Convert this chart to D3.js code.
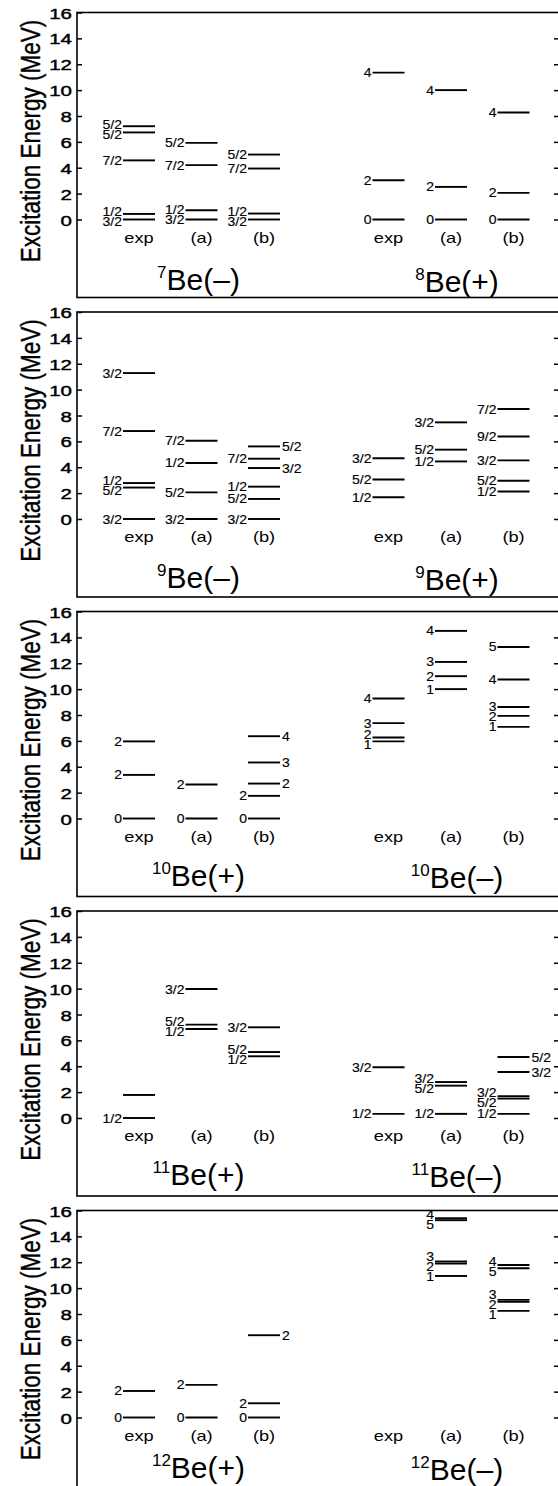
<!DOCTYPE html>
<html>
<head>
<meta charset="utf-8">
<script src="https://cdn.jsdelivr.net/npm/d3@7"></script>
<style>
  body { margin: 0; background: #fff; }
  svg { display: block; }
  text { font-family: "Liberation Sans", Arial, Helvetica, sans-serif; fill: #000; }
</style>
</head>
<body>
<svg id="chart" width="558" height="1486"></svg>
<script>
// Calculation columns and energy axis ticks
const columns = ["exp", "(a)", "(b)"];
const energyTicks = [0, 2, 4, 6, 8, 10, 12, 14, 16];

// Level schemes: [column, excitation energy (MeV), spin label]
const be7Minus = [
  ["exp", 0, "3/2"], ["exp", 0.43, "1/2"], ["exp", 4.57, "7/2"], ["exp", 6.73, "5/2"], ["exp", 7.21, "5/2"],
  ["(a)", 0, "3/2"], ["(a)", 0.72, "1/2"], ["(a)", 4.2, "7/2"], ["(a)", 5.92, "5/2"],
  ["(b)", 0, "3/2"], ["(b)", 0.46, "1/2"], ["(b)", 3.94, "7/2"], ["(b)", 5.02, "5/2"]
];
const be8Plus = [
  ["exp", 0, "0"], ["exp", 3.03, "2"], ["exp", 11.35, "4"],
  ["(a)", 0, "0"], ["(a)", 2.52, "2"], ["(a)", 10.0, "4"],
  ["(b)", 0, "0"], ["(b)", 2.06, "2"], ["(b)", 8.27, "4"]
];
const be9Minus = [
  ["exp", 0, "3/2"], ["exp", 2.43, "5/2"], ["exp", 2.78, "1/2"], ["exp", 6.8, "7/2"], ["exp", 11.28, "3/2"],
  ["(a)", 0, "3/2"], ["(a)", 2.06, "5/2"], ["(a)", 4.33, "1/2"], ["(a)", 6.05, "7/2"],
  ["(b)", 0, "3/2"], ["(b)", 1.55, "5/2"], ["(b)", 2.5, "1/2"], ["(b)", 3.94, "3/2"], ["(b)", 4.66, "7/2"], ["(b)", 5.61, "5/2"]
];
const be9Plus = [
  ["exp", 1.68, "1/2"], ["exp", 3.05, "5/2"], ["exp", 4.70, "3/2"],
  ["(a)", 4.45, "1/2"], ["(a)", 5.36, "5/2"], ["(a)", 7.47, "3/2"],
  ["(b)", 2.13, "1/2"], ["(b)", 2.96, "5/2"], ["(b)", 4.53, "3/2"], ["(b)", 6.38, "9/2"], ["(b)", 8.5, "7/2"]
];
const be10Plus = [
  ["exp", 0, "0"], ["exp", 3.37, "2"], ["exp", 5.96, "2"],
  ["(a)", 0, "0"], ["(a)", 2.63, "2"],
  ["(b)", 0, "0"], ["(b)", 1.75, "2"], ["(b)", 2.7, "2"], ["(b)", 4.33, "3"], ["(b)", 6.36, "4"]
];
const be10Minus = [
  ["exp", 5.96, "1"], ["exp", 6.26, "2"], ["exp", 7.37, "3"], ["exp", 9.27, "4"],
  ["(a)", 10.0, "1"], ["(a)", 11.0, "2"], ["(a)", 12.1, "3"], ["(a)", 14.5, "4"],
  ["(b)", 7.08, "1"], ["(b)", 7.93, "2"], ["(b)", 8.62, "3"], ["(b)", 10.74, "4"], ["(b)", 13.26, "5"]
];
const be11Plus = [
  ["exp", 0, "1/2"], ["exp", 1.78, ""],
  ["(a)", 6.88, "1/2"], ["(a)", 7.22, "5/2"], ["(a)", 9.97, "3/2"],
  ["(b)", 4.77, "1/2"], ["(b)", 5.1, "5/2"], ["(b)", 7.01, "3/2"]
];
const be11Minus = [
  ["exp", 0.32, "1/2"], ["exp", 3.92, "3/2"],
  ["(a)", 0.32, "1/2"], ["(a)", 2.5, "5/2"], ["(a)", 2.78, "3/2"],
  ["(b)", 0.32, "1/2"], ["(b)", 1.5, "5/2"], ["(b)", 1.68, "3/2"], ["(b)", 3.55, "3/2"], ["(b)", 4.71, "5/2"]
];
const be12Plus = [
  ["exp", 0, "0"], ["exp", 2.05, "2"],
  ["(a)", 0, "0"], ["(a)", 2.52, "2"],
  ["(b)", 0, "0"], ["(b)", 1.1, "2"], ["(b)", 6.36, "2"]
];
const be12Minus = [
  ["(a)", 10.94, "1"], ["(a)", 11.9, "2"], ["(a)", 12.06, "3"], ["(a)", 15.25, "5"], ["(a)", 15.4, "4"],
  ["(b)", 8.24, "1"], ["(b)", 8.94, "2"], ["(b)", 9.09, "3"], ["(b)", 11.54, "5"], ["(b)", 11.79, "4"]
];

// Levels whose spin is written to the right of the line: [nucleus, column, energy]
const rightLabelled = [
  ["be9Minus", "(b)", 3.94], ["be9Minus", "(b)", 5.61],
  ["be10Plus", "(b)", 2.7], ["be10Plus", "(b)", 4.33], ["be10Plus", "(b)", 6.36],
  ["be11Minus", "(b)", 3.55], ["be11Minus", "(b)", 4.71],
  ["be12Plus", "(b)", 6.36]
];

// Panel arrangement (rows of two nuclei) and their titles
const panelRows = [
  ["be7Minus", "be8Plus"], ["be9Minus", "be9Plus"], ["be10Plus", "be10Minus"],
  ["be11Plus", "be11Minus"], ["be12Plus", "be12Minus"]
];
const nucleusKeys   = ["be7Minus", "be8Plus", "be9Minus", "be9Plus", "be10Plus", "be10Minus", "be11Plus", "be11Minus", "be12Plus", "be12Minus"];
const nucleusMass   = ["7", "8", "9", "9", "10", "10", "11", "11", "12", "12"];
const nucleusParity = ["–", "+", "–", "+", "+", "–", "+", "–", "+", "–"];

const levelsByKey = { be7Minus, be8Plus, be9Minus, be9Plus, be10Plus, be10Minus, be11Plus, be11Minus, be12Plus, be12Minus };

// ---- layout ----
const svg = d3.select("#chart");
const firstTop = 12.5, panelStep = 299.5, plotSpan = 207, boxH = 285;
const titleDrop = [277.5, 275.5, 274, 274, 267];
const xL = 77, xR = 559;
const halfLen = 16;
const groupX = d3.scalePoint().domain([0, 1]).range([139, 388.5]);
const colX = d3.scalePoint().domain(columns).range([0, 125]);

// push overlapping labels apart while keeping their order
function spread(items, gap) {
  items.sort((a, b) => a.ly - b.ly);
  for (let it = 0; it < 60; it++) {
    let moved = false;
    for (let i = 0; i < items.length - 1; i++) {
      const d = items[i + 1].ly - items[i].ly;
      if (d < gap - 0.01) {
        const m = (items[i].ly + items[i + 1].ly) / 2;
        items[i].ly = m - gap / 2;
        items[i + 1].ly = m + gap / 2;
        moved = true;
      }
    }
    if (!moved) break;
  }
  return items;
}

panelRows.forEach((row, r) => {
  const top = firstTop + r * panelStep;
  const y = d3.scaleLinear().domain([0, 16]).range([top + plotSpan, top]);
  const g = svg.append("g");

  g.append("rect")
    .attr("x", xL).attr("y", top)
    .attr("width", xR - xL).attr("height", boxH)
    .attr("fill", "none").attr("stroke", "#000").attr("stroke-width", 1.6);

  // left energy axis
  const ax = g.append("g").attr("transform", `translate(${xL},0)`)
    .call(d3.axisLeft(y).tickValues(energyTicks).tickSize(-5).tickFormat(d3.format("d")));
  ax.select(".domain").remove();
  ax.selectAll(".tick line").attr("stroke", "#000").attr("stroke-width", 1.5);
  ax.selectAll(".tick text")
    .attr("x", null).attr("dy", "0.36em")
    .attr("transform", "translate(-5,0) scale(1.32,1)")
    .style("font-size", "15.5px").style("font-family", "Liberation Sans, Arial, sans-serif")
    .attr("fill", "#000").attr("stroke", "#000").attr("stroke-width", 0.45);

  // right ticks
  const axr = g.append("g").attr("transform", `translate(${xR},0)`)
    .call(d3.axisRight(y).tickValues(energyTicks.filter(v => v < 16)).tickSize(-5).tickFormat(""));
  axr.select(".domain").remove();
  axr.selectAll(".tick line").attr("stroke", "#000").attr("stroke-width", 1.5);

  // axis title
  g.append("text")
    .attr("transform", `translate(30,${top + 128.5}) rotate(-90) scale(1,1.25)`)
    .attr("text-anchor", "middle").attr("dy", "0.35em")
    .attr("stroke", "#000").attr("stroke-width", 0.3)
    .style("font-size", "22.5px")
    .text("Excitation Energy (MeV)");

  row.forEach((key, h) => {
    const gx = groupX(h);
    const idx = nucleusKeys.indexOf(key);
    const levels = levelsByKey[key].map(([col, e, j]) => ({
      col, e, j,
      right: rightLabelled.some(([k, c, en]) => k === key && c === col && en === e)
    }));

    // level lines
    g.append("g").selectAll("line").data(levels).join("line")
      .attr("x1", d => gx + colX(d.col) - halfLen)
      .attr("x2", d => gx + colX(d.col) + halfLen)
      .attr("y1", d => y(d.e)).attr("y2", d => y(d.e))
      .attr("stroke", "#000").attr("stroke-width", 1.9);

    // spin labels, spread within each column side
    const labelled = [];
    columns.forEach(c => {
      [false, true].forEach(side => {
        const items = levels.filter(d => d.col === c && d.right === side && d.j !== "")
          .map(d => ({ ...d, ly: y(d.e) }));
        labelled.push(...spread(items, 10));
      });
    });
    g.append("g").selectAll("text").data(labelled).join("text")
      .attr("transform", d => {
        const x = d.right ? gx + colX(d.col) + halfLen + 2 : gx + colX(d.col) - halfLen - 1;
        return `translate(${x},${d.ly}) scale(1.12,1)`;
      })
      .attr("text-anchor", d => d.right ? "start" : "end")
      .attr("dy", "0.36em")
      .attr("stroke", "#000").attr("stroke-width", 0.15)
      .style("font-size", "12.5px")
      .text(d => d.j);

    // column captions
    g.append("g").selectAll("text").data(columns).join("text")
      .attr("transform", c => `translate(${gx + colX(c)},${top + 230}) scale(1.3,1)`)
      .attr("text-anchor", "middle")
      .style("font-size", "14px")
      .text(c => c);

    // nucleus title
    const t = g.append("text")
      .attr("transform", `translate(${gx + colX("(a)") + (h ? 6 : -3)},${top + titleDrop[r] + (h ? 2 : 0)})`)
      .attr("text-anchor", "middle");
    t.append("tspan").style("font-size", "17px").attr("dy", -12).text(nucleusMass[idx]);
    t.append("tspan").style("font-size", "30px").attr("dy", 12).text(`Be(${nucleusParity[idx]})`);
  });
});
</script>
</body>
</html>
